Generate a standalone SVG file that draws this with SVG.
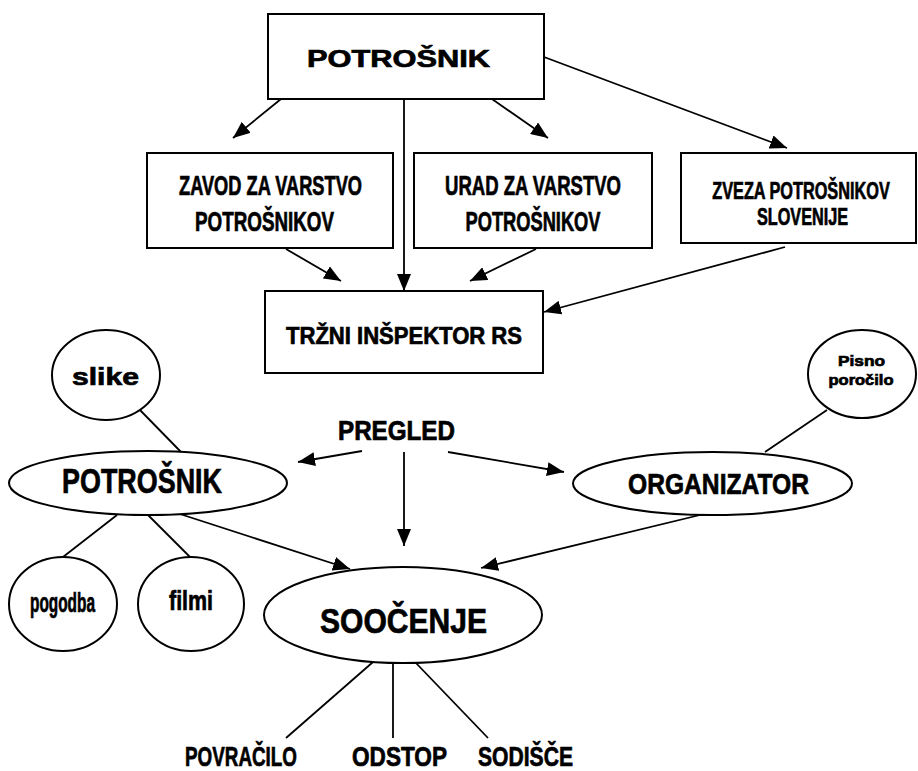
<svg xmlns="http://www.w3.org/2000/svg" width="918" height="771" viewBox="0 0 918 771">
<style>
.box{fill:#fff;stroke:#000;stroke-width:2}
.sh{fill:#fff;stroke:#000;stroke-width:2}
.ln{stroke:#000;stroke-width:1.8;fill:none}
.ar{stroke:#000;stroke-width:1.8;fill:none;marker-end:url(#ah)}
text{font-family:"Liberation Sans",Arial,sans-serif;font-weight:bold;text-anchor:middle;fill:#000;stroke:#000;stroke-width:0.7}
</style>
<defs>
<marker id="ah" markerUnits="userSpaceOnUse" markerWidth="18" markerHeight="14" refX="17" refY="7" orient="auto">
<path d="M0,0 L17,7 L0,14 z" fill="#000"/>
</marker>
</defs>
<rect width="918" height="771" fill="#fff"/>
<g id="connectors">
<line class="ar" x1="281" y1="99" x2="233" y2="138"/>
<line class="ar" x1="492" y1="99" x2="548" y2="138"/>
<line class="ar" x1="544" y1="57" x2="787" y2="148"/>
<line class="ar" x1="404" y1="99" x2="404" y2="291"/>
<line class="ar" x1="286" y1="249" x2="341" y2="281"/>
<line class="ar" x1="536" y1="249" x2="470" y2="281"/>
<line class="ar" x1="785" y1="247" x2="544" y2="312"/>
<line class="ar" x1="362" y1="451" x2="298" y2="462"/>
<line class="ar" x1="404" y1="452" x2="404" y2="546"/>
<line class="ar" x1="448" y1="452" x2="564" y2="472"/>
<line class="ar" x1="180" y1="514" x2="350" y2="569"/>
<line class="ar" x1="700" y1="515" x2="481" y2="568"/>
<line class="ln" x1="139" y1="409" x2="181" y2="452"/>
<line class="ln" x1="827" y1="410" x2="765" y2="452"/>
<line class="ln" x1="117" y1="515" x2="63" y2="557"/>
<line class="ln" x1="148" y1="515" x2="190" y2="557"/>
<line class="ln" x1="373" y1="662" x2="286" y2="738"/>
<line class="ln" x1="393" y1="663" x2="393" y2="738"/>
<line class="ln" x1="415" y1="662" x2="488" y2="738"/>
</g>
<g id="potrosnik-top">
<rect class="box" x="268" y="14" width="276" height="85"/>
<text x="398.5" y="67" font-size="24" textLength="183" lengthAdjust="spacingAndGlyphs">POTROŠNIK</text>
</g>
<g id="zavod">
<rect class="box" x="147" y="153" width="246" height="95"/>
<text x="270.5" y="195" font-size="27" textLength="183" lengthAdjust="spacingAndGlyphs">ZAVOD ZA VARSTVO</text>
<text x="264.5" y="231" font-size="27" textLength="139" lengthAdjust="spacingAndGlyphs">POTROŠNIKOV</text>
</g>
<g id="urad">
<rect class="box" x="414" y="153" width="238" height="95"/>
<text x="533" y="195" font-size="27" textLength="176" lengthAdjust="spacingAndGlyphs">URAD ZA VARSTVO</text>
<text x="533" y="231" font-size="27" textLength="135" lengthAdjust="spacingAndGlyphs">POTROŠNIKOV</text>
</g>
<g id="zveza">
<rect class="box" x="681" y="153" width="235" height="90"/>
<text transform="translate(801,199) scale(0.678,1)" x="0" y="0" font-size="24">ZVEZA POTROŠNIKOV</text>
<text transform="translate(802.5,225) scale(0.676,1)" x="0" y="0" font-size="24">SLOVENIJE</text>
</g>
<g id="trzni">
<rect class="box" x="265" y="291" width="278" height="82"/>
<text x="404" y="344" font-size="24" textLength="236" lengthAdjust="spacingAndGlyphs">TRŽNI INŠPEKTOR RS</text>
</g>
<g id="slike">
<ellipse class="sh" cx="106" cy="375" rx="54" ry="45"/>
<text x="105.5" y="385" font-size="24" textLength="67" lengthAdjust="spacingAndGlyphs">slike</text>
</g>
<g id="potrosnik">
<ellipse class="sh" cx="148" cy="483" rx="139" ry="32"/>
<text x="142" y="493" font-size="35" textLength="160" lengthAdjust="spacingAndGlyphs">POTROŠNIK</text>
</g>
<g id="pregled">
<text x="396.5" y="440" font-size="27" textLength="117" lengthAdjust="spacingAndGlyphs">PREGLED</text>
</g>
<g id="pisno">
<ellipse class="sh" cx="862" cy="374" rx="54" ry="44"/>
<text x="861.5" y="366" font-size="15" textLength="47" lengthAdjust="spacingAndGlyphs">Pisno</text>
<text x="861" y="385" font-size="15" textLength="65" lengthAdjust="spacingAndGlyphs">poročilo</text>
</g>
<g id="organizator">
<ellipse class="sh" cx="712.5" cy="483.5" rx="139.5" ry="31.5"/>
<text x="718.5" y="494" font-size="30" textLength="181" lengthAdjust="spacingAndGlyphs">ORGANIZATOR</text>
</g>
<g id="pogodba">
<ellipse class="sh" cx="63" cy="604" rx="54" ry="47"/>
<text x="62.5" y="612" font-size="27" textLength="65" lengthAdjust="spacingAndGlyphs">pogodba</text>
</g>
<g id="filmi">
<ellipse class="sh" cx="191" cy="604" rx="53" ry="47"/>
<text x="191" y="610" font-size="27" textLength="44" lengthAdjust="spacingAndGlyphs">filmi</text>
</g>
<g id="soocenje">
<ellipse class="sh" cx="403" cy="615" rx="139" ry="48"/>
<text x="403.5" y="633" font-size="35" textLength="167" lengthAdjust="spacingAndGlyphs">SOOČENJE</text>
</g>
<g id="povracilo">
<text x="241" y="766" font-size="27" textLength="112" lengthAdjust="spacingAndGlyphs">POVRAČILO</text>
</g>
<g id="odstop">
<text x="399.5" y="766" font-size="27" textLength="95" lengthAdjust="spacingAndGlyphs">ODSTOP</text>
</g>
<g id="sodisce">
<text x="525.5" y="766" font-size="27" textLength="95" lengthAdjust="spacingAndGlyphs">SODIŠČE</text>
</g>
</svg>
